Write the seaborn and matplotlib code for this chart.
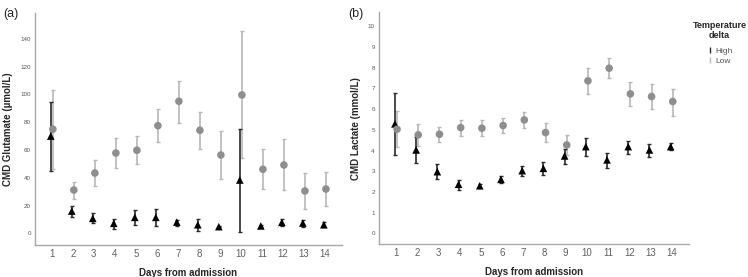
import numpy as np
import pandas as pd
import matplotlib
matplotlib.use("Agg")
import matplotlib.pyplot as plt
import seaborn as sns
from matplotlib.lines import Line2D

days = list(range(1, 15))

# CMD glutamate (umol/L): mean and error bar limits
glu_high = [70, 16, 10.8, 7.2, 11.5, 11.5, 8.1, 6.2, 4.8, 38.4, 5.3, 7.9, 7.4, 6.2]
glu_high_lo = [45, 11.5, 7.7, 3.1, 6.2, 5.3, 5.5, 1.7, 4.4, 1.2, 4.8, 5.3, 4.8, 4.3]
glu_high_hi = [94.4, 20, 14.4, 10.3, 16.6, 17.5, 9.6, 10, 5.3, 75.1, 5.8, 10.3, 9.4, 8.1]
glu_low = [75, 31.2, 43.4, 57.8, 59.8, 77.5, 95.1, 74.2, 56.4, 99.6, 46.1, 49.2, 30.5, 31.9]
glu_low_lo = [46, 25, 34, 47.3, 49.7, 65.6, 79.5, 60.7, 38.9, 54, 31.7, 31, 17.5, 19.5]
glu_low_hi = [103, 37, 52.8, 68.6, 69.9, 89.6, 110, 87.2, 74, 145.7, 60.5, 67.7, 43.2, 44.2]

# CMD lactate (mmol/L)
lac_high = [5.29, 4.03, 2.98, 2.37, 2.30, 2.61, 3.03, 3.14, 3.74, 4.19, 3.55, 4.19, 4.03, 4.19]
lac_high_lo = [3.79, 3.39, 2.63, 2.09, 2.2, 2.42, 2.79, 2.82, 3.35, 3.74, 3.17, 3.82, 3.71, 4.03]
lac_high_hi = [6.8, 4.64, 3.34, 2.58, 2.4, 2.77, 3.26, 3.47, 4.06, 4.60, 3.87, 4.48, 4.32, 4.38]
lac_low = [5.03, 4.76, 4.79, 5.11, 5.08, 5.21, 5.48, 4.87, 4.27, 7.37, 7.98, 6.74, 6.61, 6.37]
lac_low_lo = [4.16, 4.24, 4.40, 4.72, 4.71, 4.84, 5.11, 4.40, 3.79, 6.72, 7.5, 6.16, 6.0, 5.69]
lac_low_hi = [5.92, 5.27, 5.16, 5.48, 5.48, 5.56, 5.84, 5.32, 4.76, 7.98, 8.47, 7.3, 7.22, 6.98]

groups = ["High", "Low"]
dot_colors = {"High": "black", "Low": "#8e8e8e"}
bar_colors = {"High": "#2a2a2a", "Low": "#b8b8b8"}
markers = {"High": "^", "Low": "o"}
shift = {"High": -0.05, "Low": 0.05}


def build(high, high_lo, high_hi, low, low_lo, low_hi):
    rows = []
    for g, m, lo, hi in [("High", high, high_lo, high_hi), ("Low", low, low_lo, low_hi)]:
        for d, v, a, b in zip(days, m, lo, hi):
            rows.append({"day": d, "x": d + shift[g], "value": v,
                         "lo": a, "hi": b, "Temperature delta": g})
    return pd.DataFrame(rows)


glu = build(glu_high, glu_high_lo, glu_high_hi, glu_low, glu_low_lo, glu_low_hi)
lac = build(lac_high, lac_high_lo, lac_high_hi, lac_low, lac_low_lo, lac_low_hi)

sns.set_style("white")
plt.rcParams["font.family"] = ["Liberation Sans", "DejaVu Sans"]

fig = plt.figure(figsize=(7.48, 2.77), dpi=100)
ax1 = fig.add_axes([0.0468, 0.1155, 0.410, 0.838])
ax2 = fig.add_axes([0.5067, 0.118, 0.414, 0.839])


def draw(ax, df, ylim, yticks, ylabel):
    for g in ["Low", "High"]:
        sub = df[df["Temperature delta"] == g]
        ax.errorbar(sub["x"], sub["value"],
                    yerr=[sub["value"] - sub["lo"], sub["hi"] - sub["value"]],
                    fmt="none", ecolor=bar_colors[g], elinewidth=1.2,
                    capsize=1.5, capthick=1.0, zorder=2)
    sns.scatterplot(data=df, x="x", y="value", hue="Temperature delta",
                    style="Temperature delta", palette=dot_colors,
                    markers=markers, hue_order=groups, s=30, linewidth=0,
                    ax=ax, legend=False, zorder=3)
    ax.set_xlim(0.2, 14.8)
    ax.set_ylim(*ylim)
    ax.set_xticks(days)
    ax.set_xticklabels([str(d) for d in days], fontsize=7, color="#606060")
    ax.set_yticks(yticks)
    ax.set_yticklabels([str(t) for t in yticks], fontsize=4.5, color="#555555")
    ax.tick_params(length=0, pad=3)
    ax.set_xlabel("Days from admission", fontsize=7, fontweight="bold", labelpad=6)
    ax.set_ylabel(ylabel, fontsize=7, fontweight="bold", labelpad=5)
    sns.despine(ax=ax)
    for s in ["left", "bottom"]:
        ax.spines[s].set_color("#a8a8a8")
        ax.spines[s].set_linewidth(1.0)


draw(ax1, glu, (-8.4, 158.7), list(range(0, 141, 20)), "CMD Glutamate (µmol/L)")
draw(ax2, lac, (-0.53, 10.7), list(range(0, 11)), "CMD Lactate (mmol/L)")

fig.text(0.004, 0.972, "(a)", fontsize=9, va="top")
fig.text(0.465, 0.972, "(b)", fontsize=9, va="top")

handles = [Line2D([], [], linestyle="none", marker=r"$\mathrm{I}$",
                  markersize=5, color=bar_colors[g]) for g in groups]
leg = fig.legend(handles, groups, title="Temperature\ndelta", loc="upper center",
                 bbox_to_anchor=(0.962, 0.93), frameon=False, fontsize=6,
                 title_fontproperties={"weight": "bold", "size": 6.5},
                 handlelength=0.8, handletextpad=0.3, labelspacing=0.2,
                 labelcolor="#555555", borderaxespad=0, borderpad=0.2)
leg._legend_box.align = "center"
leg._legend_box.sep = 5
leg.get_title().set_multialignment("center")

fig.savefig("out.png", dpi=100)
